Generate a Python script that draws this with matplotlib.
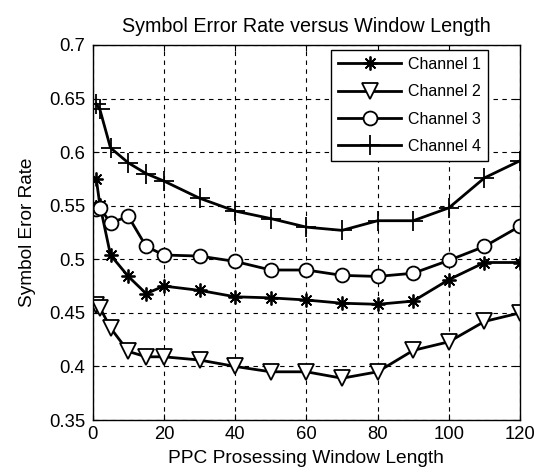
#!/usr/bin/env python3
import matplotlib
matplotlib.use("Agg")
import matplotlib.pyplot as plt

window = [1, 2, 5, 10, 15, 20, 30, 40, 50, 60, 70, 80, 90, 100, 110, 120]
channel_1 = [0.575, 0.551, 0.504, 0.484, 0.468, 0.475, 0.471, 0.465, 0.464,
             0.462, 0.459, 0.458, 0.461, 0.481, 0.497, 0.497]
channel_2 = [0.457, 0.455, 0.436, 0.414, 0.409, 0.409, 0.406, 0.400, 0.395,
             0.395, 0.389, 0.395, 0.415, 0.423, 0.442, 0.450]
channel_3 = [0.547, 0.548, 0.534, 0.540, 0.512, 0.504, 0.503, 0.498, 0.490,
             0.490, 0.485, 0.484, 0.487, 0.499, 0.512, 0.531]
channel_4 = [0.645, 0.640, 0.604, 0.590, 0.580, 0.573, 0.557, 0.545, 0.538,
             0.530, 0.527, 0.536, 0.536, 0.548, 0.576, 0.592]
labels = ["Channel 1", "Channel 2", "Channel 3", "Channel 4"]


def main():
    plt.rcParams["font.family"] = ["Liberation Sans", "DejaVu Sans"]
    fig = plt.figure(figsize=(5.34, 4.76), dpi=100)
    ax = fig.add_axes([0.1736, 0.1176, 0.8004, 0.7879])

    style = dict(color="black", linewidth=2, markerfacecolor="white",
                 markeredgecolor="black", markeredgewidth=1.3)
    ax.plot(window, channel_1, marker=(8, 2, 0), markersize=10,
            label=labels[0], **style)
    ax.plot(window, channel_2, marker="v", markersize=11,
            label=labels[1], **style)
    ax.plot(window, channel_3, marker="o", markersize=10,
            label=labels[2], **style)
    ax.plot(window, channel_4, marker="+", markersize=14,
            label=labels[3], **style)

    ax.set_xlim(0, 120)
    ax.set_ylim(0.35, 0.7)
    ax.set_xticks(range(0, 121, 20))
    ax.set_yticks([0.35, 0.4, 0.45, 0.5, 0.55, 0.6, 0.65, 0.7])
    ax.set_yticklabels(["0.35", "0.4", "0.45", "0.5", "0.55", "0.6", "0.65", "0.7"])
    ax.grid(True, color="black", linestyle=(0, (4, 4)), linewidth=0.8)
    ax.tick_params(direction="in", top=True, right=True, labelsize=13.3,
                   length=4)
    ax.tick_params(axis="x", pad=4.5)
    ax.tick_params(axis="y", pad=5.5)
    for s in ax.spines.values():
        s.set_linewidth(1)

    ax.set_title("Symbol Error Rate versus Window Length", fontsize=14.2, pad=9)
    ax.set_xlabel("PPC Prosessing Window Length", fontsize=13.8, labelpad=5)
    ax.set_ylabel("Symbol Eror Rate", fontsize=13.7, labelpad=9)

    leg = ax.legend(loc="upper right", bbox_to_anchor=(0.925, 0.987),
                    fontsize=11.5, handlelength=3.9, handletextpad=0.45,
                    fancybox=False, framealpha=1, edgecolor="black",
                    borderpad=0.45, borderaxespad=0, labelspacing=0.77)
    leg.get_frame().set_linewidth(1)

    plt.savefig("out.png", dpi=100)


if __name__ == '__main__':
    main()
